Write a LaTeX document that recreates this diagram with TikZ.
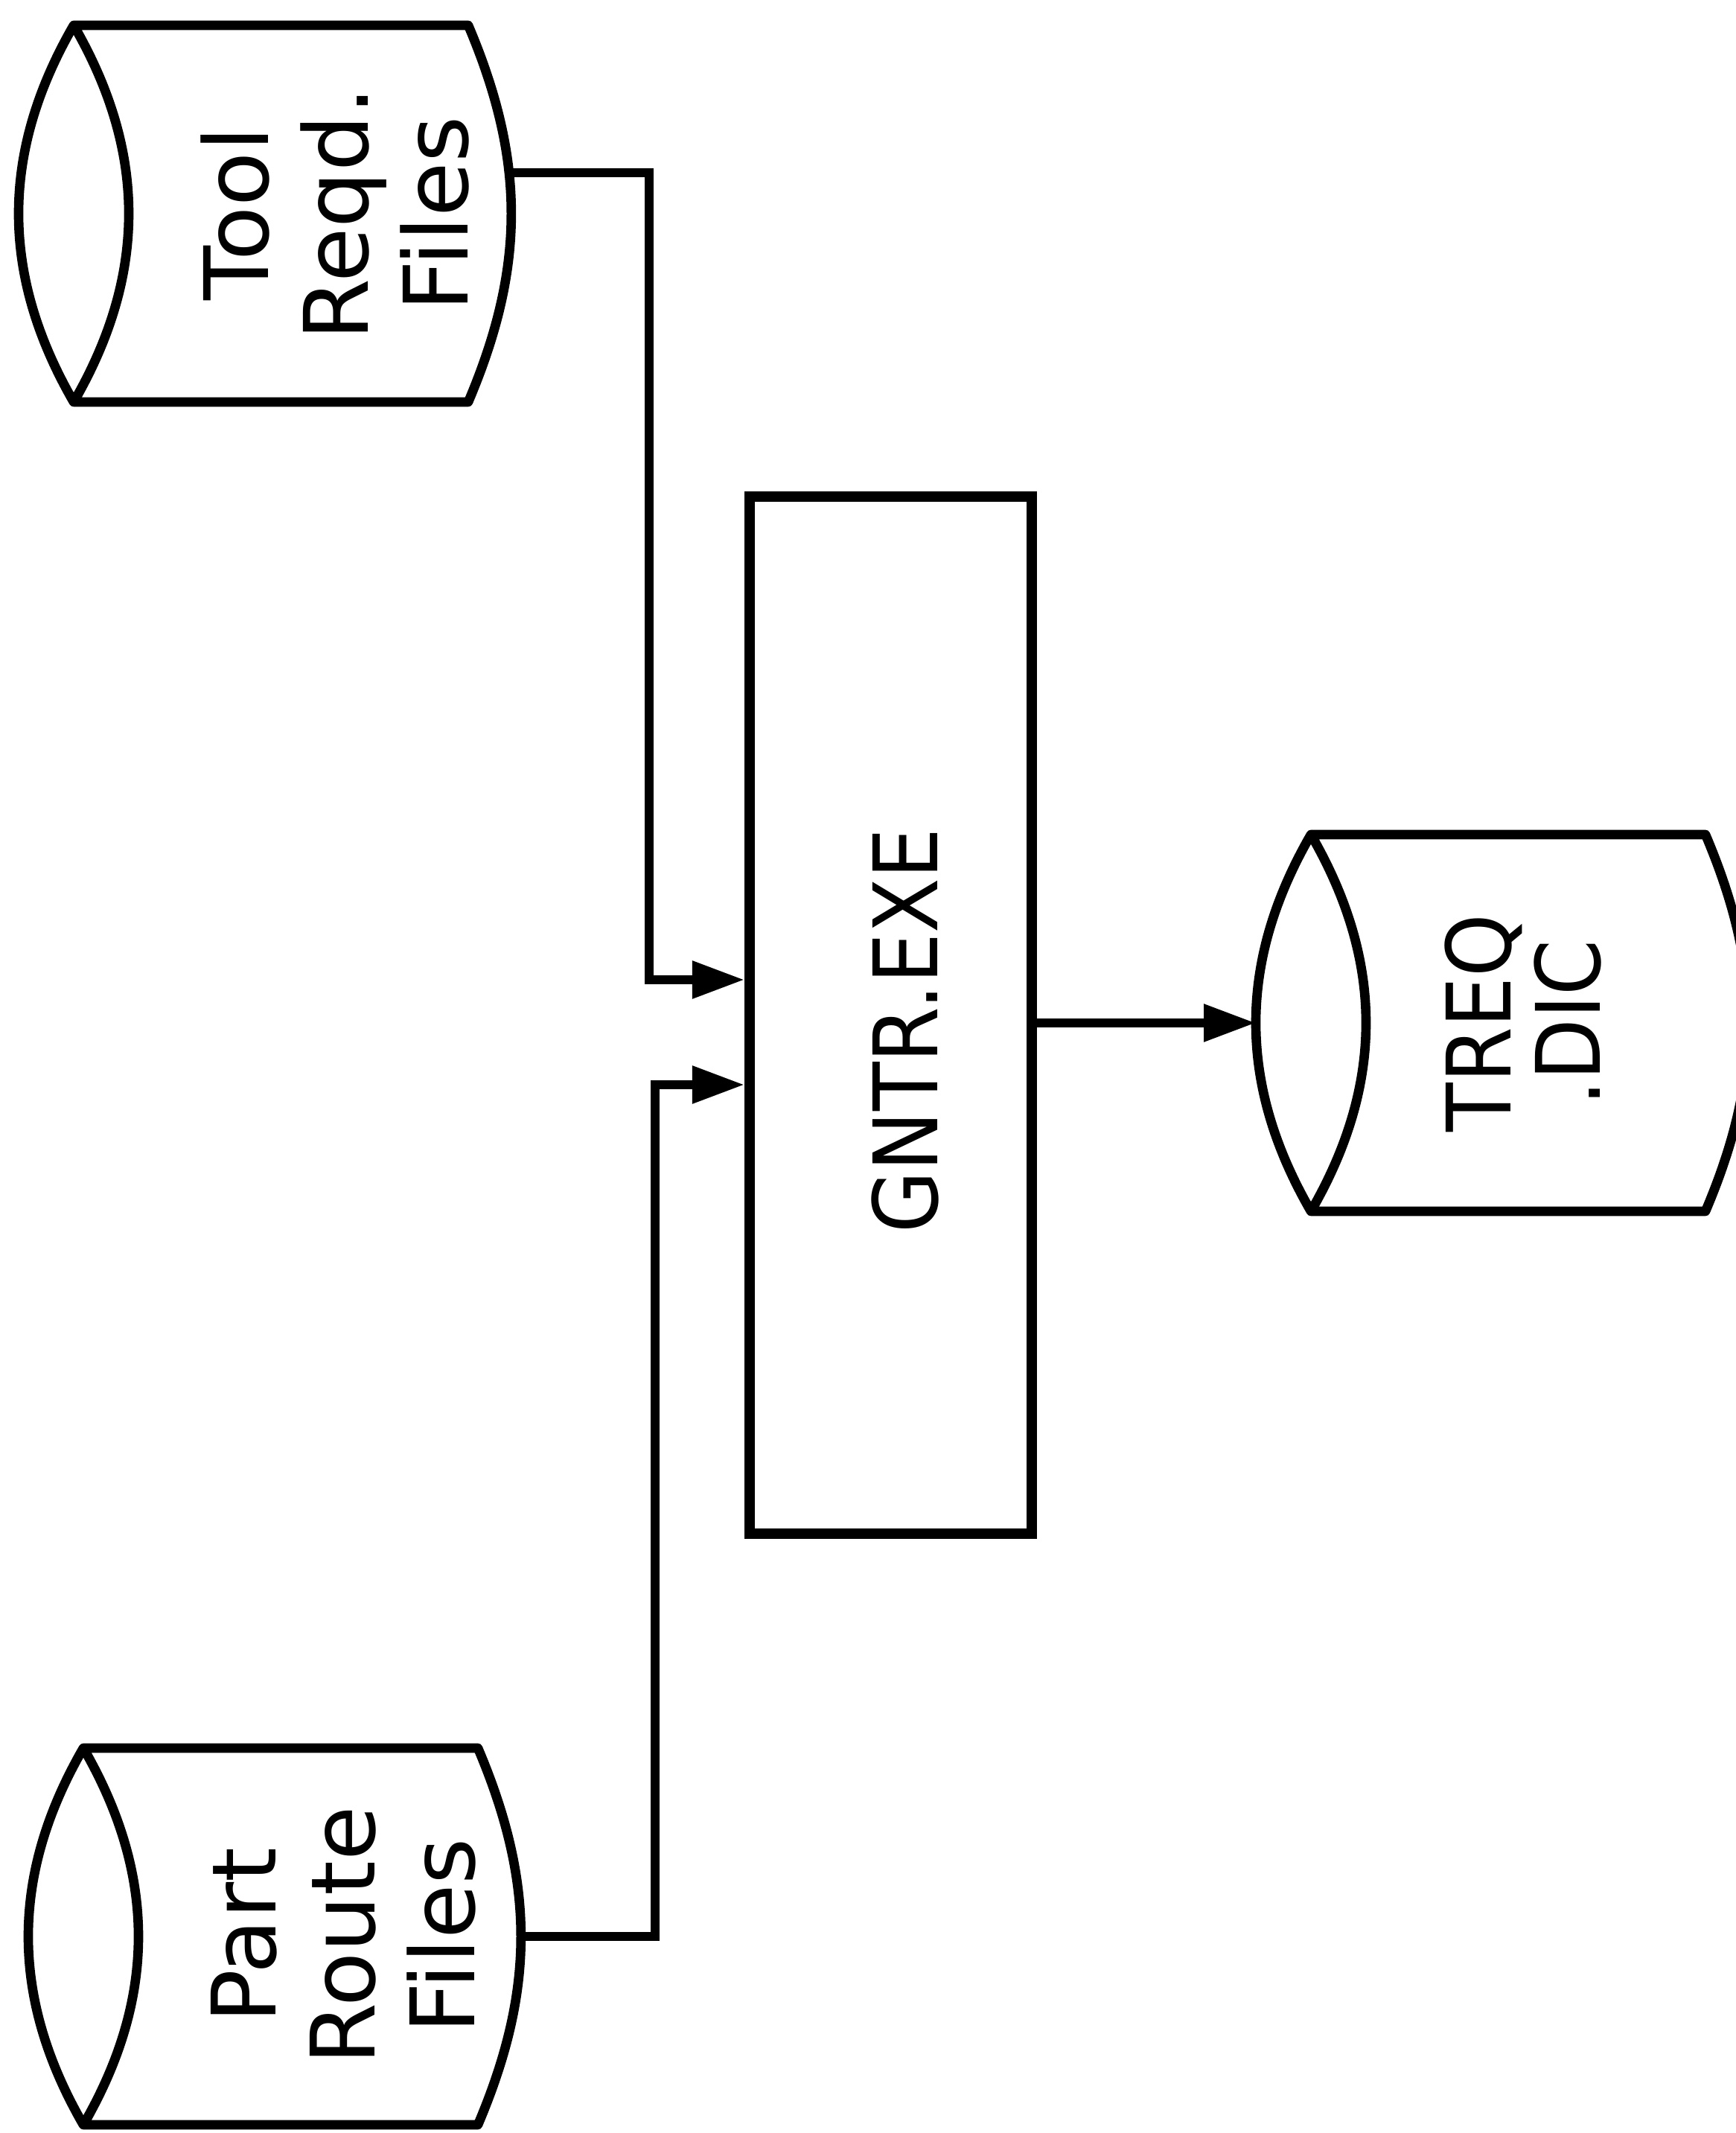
\documentclass[tikz,border=0pt]{standalone}
\usepackage{fontspec}
\setmainfont{DejaVu Sans}
\newfontfamily\capfont[FakeStretch=0.9]{DejaVu Sans}
\usetikzlibrary{arrows.meta,calc}
\tikzset{
  outline/.style={line width=3.6pt, line join=round},
  store/.style={rotate=90, align=center, inner sep=0pt, font=\fontsize{34}{38}\selectfont},
  proc/.style={draw, line width=4pt, minimum width=3.79cm, minimum height=13.93cm, inner sep=0pt},
  arr/.style={-{Triangle[length=7mm, width=4.8mm]}, line width=3.4pt},
}
% disk drum lying on its side, front face on the left
\newcommand{\drum}[2]{%
  \draw[outline] ($(#2)+(0,2.53)$) coordinate (#1-nw) -- ++(5.3,0)
    to[bend left=23] ++(0,-5.06) -- ++(-5.3,0) coordinate (#1-sw)
    to[bend left=30] (#1-nw) to[bend left=30] (#1-sw);
  \coordinate (#1-e) at ($(#2)+(5.88,0)$);
  \coordinate (#1-w) at ($(#2)+(-0.74,0)$);
}

\begin{document}
\begin{tikzpicture}
  \useasboundingbox[fill=white] (0,0) rectangle (23.31,28.65);
  \drum{tooldrum}{0.99,25.78}
  \drum{partdrum}{1.12,2.64}
  \drum{treqdrum}{17.61,14.91}
  \node[store] (tool) at (4.50,25.78) {Tool\\Reqd.\\Files};
  \node[store] (part) at (4.61,2.65) {Part\\Route\\Files};
  \node[store, font=\capfont\fontsize{34}{34}\selectfont] (treq) at (20.46,14.91) {TREQ\\.DIC};
  \node[proc] (gntr) at (11.965,15.015) {};
  \node[store, font=\capfont\fontsize{34}{38}\selectfont] (gntrlbl) at ($(gntr.center)+(0.19,-0.21)$) {GNTR.EXE};
  \draw[arr] ([yshift=5.5mm]tooldrum-e) -- ++(1.85,0) |- ([yshift=4.75mm]gntr.west);
  \draw[arr] (partdrum-e) -- ++(1.80,0) |- ([yshift=-9.35mm]gntr.west);
  \draw[arr] (gntr.east |- treqdrum-w) -- (treqdrum-w);
\end{tikzpicture}
\end{document}
